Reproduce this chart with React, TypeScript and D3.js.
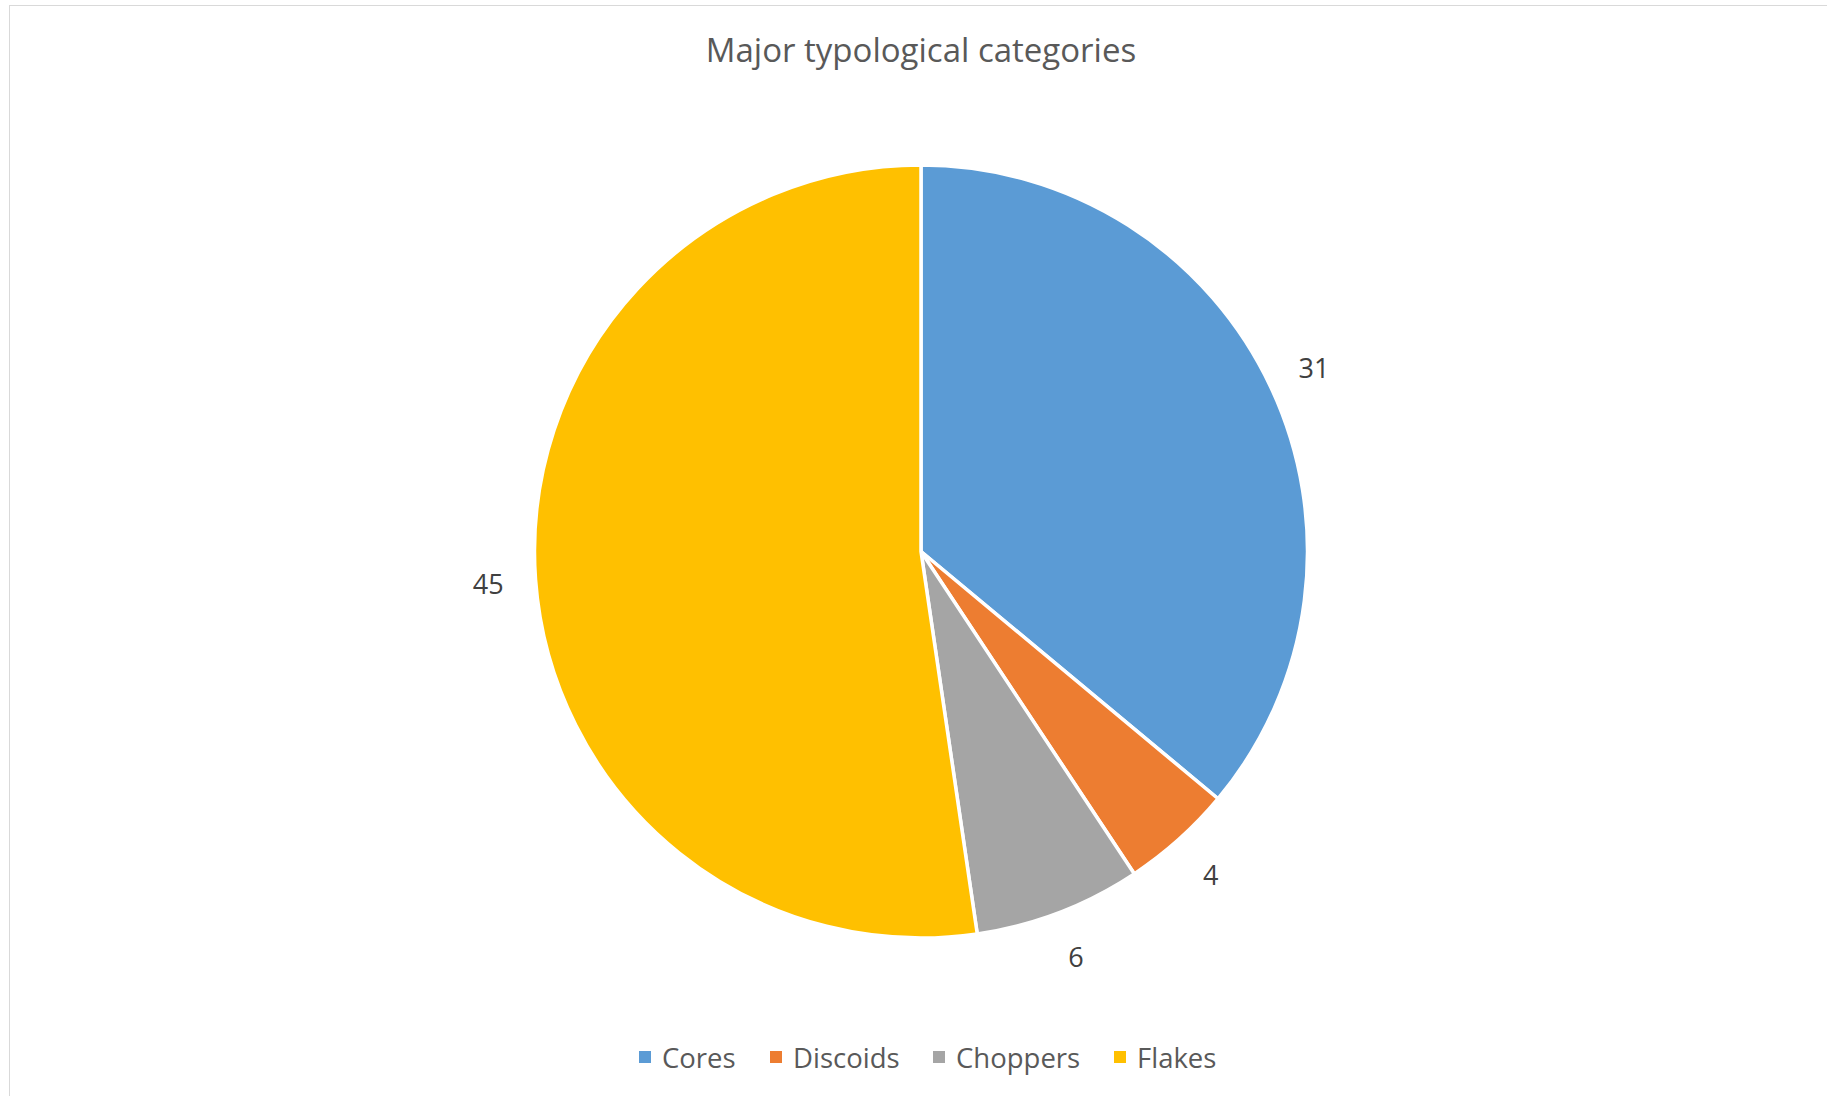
import React from "react";
import * as d3 from "d3";

const categories = ["Cores", "Discoids", "Choppers", "Flakes"];
const values = [31, 4, 6, 45];
const colors = ["#5B9BD5", "#ED7D31", "#A5A5A5", "#FFC000"];
const title = "Major typological categories";

const W = 1827;
const H = 1096;
const cx = 921;
const cy = 551.5;
const R = 386.5;
const LABEL_R = 434;
const FONT = "'Open Sans', 'Liberation Sans', sans-serif";
const TEXT = "#595959";

export default function App() {
  const pie = d3.pie<number>().sort(null).value((d) => d);
  const arcs = pie(values);
  const arcGen = d3.arc<d3.PieArcDatum<number>>().innerRadius(0).outerRadius(R);
  const labelArc = d3.arc<d3.PieArcDatum<number>>().innerRadius(LABEL_R).outerRadius(LABEL_R);

  const legendX = [645, 776, 939, 1120];
  const legendY = 1057;

  return (
    <svg
      width={W}
      height={H}
      style={{ position: "absolute", left: 0, top: 0, background: "#fff" }}
    >
      <rect x={9.5} y={5.5} width={W} height={H} fill="#fff" stroke="#D9D9D9" strokeWidth={1} />
      <text
        x={cx}
        y={62}
        textAnchor="middle"
        fontFamily={FONT}
        fontSize={33}
        fill={TEXT}
      >
        {title}
      </text>
      <g transform={`translate(${cx},${cy})`}>
        {arcs.map((a, i) => (
          <path key={i} d={arcGen(a) || ""} fill={colors[i]} stroke="#fff" strokeWidth={3.5} strokeLinejoin="round" />
        ))}
        {arcs.map((a, i) => {
          const [x, y] = labelArc.centroid(a);
          return (
            <text
              key={"l" + i}
              x={x}
              y={y}
              textAnchor="middle"
              dominantBaseline="central"
              fontFamily={FONT}
              fontSize={27}
              fill="#404040"
            >
              {values[i]}
            </text>
          );
        })}
      </g>
      {categories.map((c, i) => (
        <g key={c}>
          <rect x={legendX[i] - 6} y={legendY - 6} width={12} height={12} fill={colors[i]} />
          <text
            x={legendX[i] + 17}
            y={legendY}
            dominantBaseline="central"
            fontFamily={FONT}
            fontSize={27.5}
            fill={TEXT}
          >
            {c}
          </text>
        </g>
      ))}
    </svg>
  );
}
